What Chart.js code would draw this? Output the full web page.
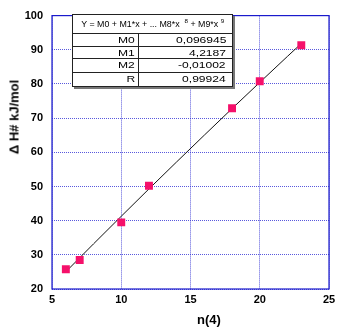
<!DOCTYPE html>
<html><head><meta charset="utf-8">
<script src="https://cdn.jsdelivr.net/npm/chart.js@4/dist/chart.umd.min.js"></script>
<style>
html,body{margin:0;padding:0;background:#fff;}
#wrap{position:relative;width:346px;height:331px;}
canvas{position:absolute;left:0;top:0;}
#box{position:absolute;left:72px;top:14px;width:159px;height:71px;background:#fff;border:1.5px solid #222;box-shadow:2px 2px 0 #777;
 font-family:"Liberation Sans",Arial,sans-serif;font-size:8.5px;color:#000;}
.hl{position:absolute;left:0;width:159px;height:0;border-top:1px solid #222;}
.vl{position:absolute;left:65px;top:19px;width:0;height:52px;border-left:1.5px solid #222;}
.cell{position:absolute;white-space:nowrap;line-height:12px;height:12px;}
.cell span{display:inline-block;transform:scaleX(1.42);transform-origin:right center;}
.hdr{position:absolute;left:0;top:3px;width:159px;text-align:center;white-space:nowrap;line-height:12px;}
.hdr span{display:inline-block;transform:scaleX(1.04);transform-origin:center center;}
sup{font-size:6px;vertical-align:4px;line-height:0;}
.ttl{position:absolute;font-family:"Liberation Sans",Arial,sans-serif;font-weight:bold;font-size:13px;color:#000;white-space:nowrap;}
</style></head><body>
<div id="wrap">
<canvas id="c" width="346" height="331"></canvas>
<div class="ttl" id="ytitle" style="left:14px;top:117px;transform:translate(-50%,-50%) rotate(-90deg);">Δ H# kJ/mol</div>
<div class="ttl" id="xtitle" style="left:209px;top:319px;transform:translate(-50%,-50%);">n(4)</div>
<div id="box">
 <div class="hdr"><span>Y = M0 + M1*x + ... M8*x &nbsp;<sup>8</sup> + M9*x <sup>9</sup></span></div>
 <div class="hl" style="top:18px;border-top-width:1.5px"></div>
 <div class="hl" style="top:31px"></div>
 <div class="hl" style="top:43px"></div>
 <div class="hl" style="top:57px"></div>
 <div class="vl"></div>
 <div class="cell" style="right:97px;top:19px"><span>M0</span></div>
 <div class="cell" style="right:6px;top:19px"><span>0,096945</span></div>
 <div class="cell" style="right:97px;top:32px"><span>M1</span></div>
 <div class="cell" style="right:6px;top:32px"><span>4,2187</span></div>
 <div class="cell" style="right:97px;top:44px"><span>M2</span></div>
 <div class="cell" style="right:6px;top:44px"><span>-0,01002</span></div>
 <div class="cell" style="right:97px;top:58px"><span>R</span></div>
 <div class="cell" style="right:6px;top:58px"><span>0,99924</span></div>
</div>
</div>
<script>
// measured points
const nValues = [6, 7, 10, 12, 18, 20, 23];
const dHValues = [25.8, 28.5, 39.5, 50.2, 72.9, 80.8, 91.3];
// fitted curve
const fitX = [6, 8, 10, 12, 14, 16, 18, 20, 22, 23];
const fitY = [25.05, 33.21, 41.28, 49.28, 57.19, 65.03, 72.79, 80.46, 88.06, 91.83];
const xTicks = [5, 10, 15, 20, 25];
const yTicks = [20, 30, 40, 50, 60, 70, 80, 90, 100];

const frameColor = '#1a1acc';
const gridColor = 'rgba(60,60,215,0.85)';
const tickFont = {family: '"Liberation Sans", Arial, sans-serif', size: 11, weight: 'bold'};

const framePlugin = {
  id: 'frame',
  afterDraw(chart) {
    const a = chart.chartArea, ctx = chart.ctx;
    ctx.save();
    ctx.strokeStyle = frameColor;
    ctx.lineWidth = 1.2;
    ctx.strokeRect(a.left, a.top, a.right - a.left, a.bottom - a.top);
    ctx.restore();
  }
};

new Chart(document.getElementById('c'), {
  type: 'scatter',
  data: {
    datasets: [
      {
        type: 'line',
        data: fitX.map((x, i) => ({x, y: fitY[i]})),
        borderColor: '#111',
        borderWidth: 1,
        pointRadius: 0,
        fill: false,
        tension: 0,
        order: 2
      },
      {
        data: nValues.map((x, i) => ({x, y: dHValues[i]})),
        pointStyle: 'rect',
        pointRadius: 5.6,
        pointBackgroundColor: '#f5106a',
        pointBorderWidth: 0,
        order: 1
      }
    ]
  },
  options: {
    responsive: false,
    animation: false,
    events: [],
    layout: {padding: {top: 15, right: 17, left: 0, bottom: 0}},
    plugins: {legend: {display: false}, tooltip: {enabled: false}},
    scales: {
      x: {
        type: 'linear', min: 5, max: 25,
        afterBuildTicks: s => { s.ticks = xTicks.map(v => ({value: v})); },
        afterFit: s => { s.height = 42; },
        grid: {color: gridColor, lineWidth: 1, drawTicks: false},
        border: {display: false, dash: [1, 1]},
        ticks: {color: '#000', font: tickFont, padding: 4, maxRotation: 0}
      },
      y: {
        type: 'linear', min: 20, max: 100,
        afterBuildTicks: s => { s.ticks = yTicks.map(v => ({value: v})); },
        afterFit: s => { s.width = 52; },
        grid: {color: gridColor, lineWidth: 1, drawTicks: false},
        border: {display: false, dash: [1, 1]},
        ticks: {color: '#000', font: tickFont, padding: 9}
      }
    }
  },
  plugins: [framePlugin]
});
</script>
</body></html>
